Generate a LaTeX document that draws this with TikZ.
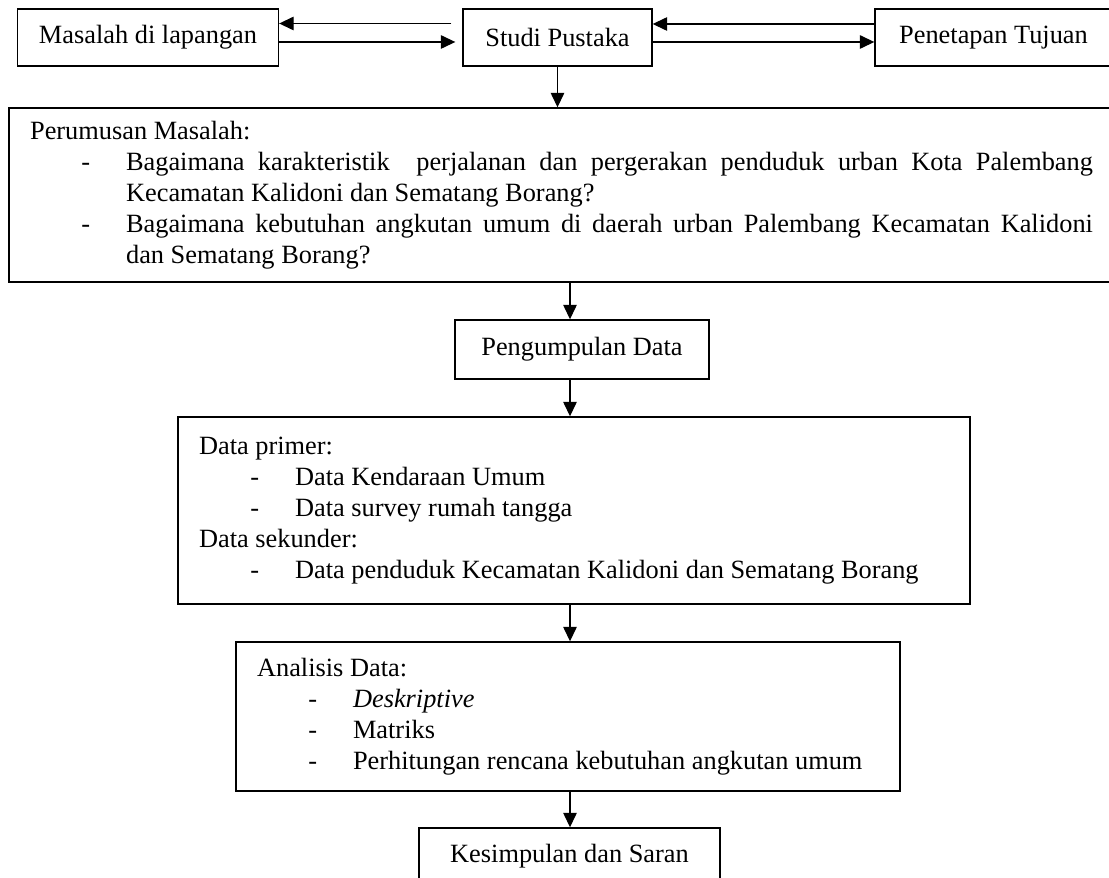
\documentclass[tikz,border=0pt]{standalone}
\usepackage{fontspec}
\setmainfont{Liberation Serif}
\usetikzlibrary{arrows.meta}
\newcommand{\butir}[1]{\par{\leftskip=1.92cm\noindent\llap{-\hspace{0.72cm}}#1\par}}

\begin{document}
\begin{tikzpicture}[x=0.02cm,y=-0.02cm,
  kotak/.style={draw,line width=0.8pt,inner sep=0pt,font=\fontsize{15}{17.6}\selectfont},
  isi/.style={kotak,inner xsep=0.42cm,align=justify},
  panah/.style={line width=0.75pt,-{Triangle[length=0.29cm,width=0.27cm]}}]
\useasboundingbox (0,0) rectangle (1109,878);
\clip (0,0) rectangle (1109,878);
\node[kotak,minimum width=5.22cm,minimum height=1.14cm] (masalah) at (148,37.5) {Masalah di lapangan};
\node[kotak,minimum width=3.78cm,minimum height=1.14cm] (studi) at (557.5,37.5) {Studi Pustaka};
\node[kotak,minimum width=4.74cm,minimum height=1.14cm] (tujuan) at (993.5,37.5) {Penetapan Tujuan};
\node[isi,text width=21.26cm,minimum height=3.48cm] (rumusan) at (561.5,195) {\hyphenpenalty=10000\noindent Perumusan Masalah:
\butir{Bagaimana karakteristik\ \ perjalanan dan pergerakan penduduk urban Kota Palembang\linebreak Kecamatan Kalidoni dan Sematang Borang?}
\butir{Bagaimana kebutuhan angkutan umum di daerah urban Palembang Kecamatan Kalidoni\linebreak dan Sematang Borang?}};
\node[kotak,minimum width=5.08cm,minimum height=1.18cm] (kumpul) at (582,349.5) {Pengumpulan Data};
\node[isi,text width=15cm,minimum height=3.74cm] (data) at (574,510.5) {\noindent Data primer:
\butir{Data Kendaraan Umum}
\butir{Data survey rumah tangga}
\noindent Data sekunder:
\butir{Data penduduk Kecamatan Kalidoni dan Sematang Borang}};
\node[isi,text width=12.44cm,minimum height=2.98cm] (analisis) at (568,716.5) {\noindent Analisis Data:
\butir{\textit{Deskriptive}}
\butir{Matriks}
\butir{Perhitungan rencana kebutuhan angkutan umum}};
\node[kotak,minimum width=6.02cm,minimum height=1.12cm] (simpul) at (569.5,856) {Kesimpulan dan Saran};
\coordinate (tulang) at (570,0);
\draw[panah] ([yshift=0.28cm,xshift=-0.22cm]studi.west) -- ([yshift=0.28cm]masalah.east);
\draw[panah,shorten >=0.14cm] ([yshift=-0.09cm]masalah.east) -- ([yshift=-0.09cm]studi.west);
\draw[panah] ([yshift=0.27cm]tujuan.west) -- ([yshift=0.27cm]studi.east);
\draw[panah] ([yshift=-0.09cm]studi.east) -- ([yshift=-0.09cm]tujuan.west);
\draw[panah] (studi.south) -- (studi.south |- rumusan.north);
\draw[panah] (tulang |- rumusan.south) -- (tulang |- kumpul.north);
\draw[panah] (tulang |- kumpul.south) -- (tulang |- data.north);
\draw[panah] (tulang |- data.south) -- (tulang |- analisis.north);
\draw[panah] (tulang |- analisis.south) -- (tulang |- simpul.north);
\end{tikzpicture}
\end{document}
